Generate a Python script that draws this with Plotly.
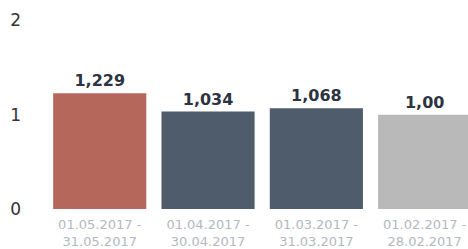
import plotly.graph_objects as go

categories = ["01.05.2017 -<br>31.05.2017", "01.04.2017 -<br>30.04.2017",
              "01.03.2017 -<br>31.03.2017", "01.02.2017 -<br>28.02.2017"]
values = [1.229, 1.034, 1.068, 1.00]
value_labels = ["1,229", "1,034", "1,068", "1,00"]
bar_colors = ["#b5675c", "#4f5c6c", "#4f5c6c", "#b9b9b9"]
y_ticks = [0, 1, 2]

fig = go.Figure(go.Bar(
    x=categories, y=values, text=value_labels, textposition="outside",
    marker=dict(color=bar_colors, line=dict(width=0)),
    textfont=dict(family="DejaVu Sans", size=16, color="#2b3440", weight="bold"),
    cliponaxis=False,
))

fig.update_layout(
    width=468, height=249,
    margin=dict(l=22, r=0, t=0, b=40),
    paper_bgcolor="white", plot_bgcolor="white",
    bargap=0.14, showlegend=False,
    xaxis=dict(range=[-0.7176, 3.40], showgrid=False, showline=False, zeroline=False,
               automargin=False, ticklabelstandoff=6,
               tickfont=dict(family="DejaVu Sans", size=13, color="#b4b8bf")),
    yaxis=dict(range=[0, 2.218], tickvals=y_ticks, showgrid=False, zeroline=False,
               showline=False, automargin=False,
               tickfont=dict(family="DejaVu Sans", size=17, color="#333333")),
)

fig.write_html("out.html", config={"displayModeBar": False},
               post_script="document.body.style.margin='0';")
